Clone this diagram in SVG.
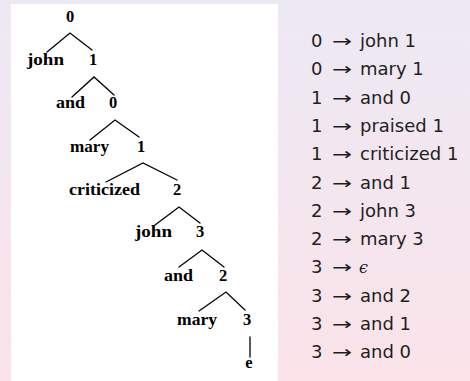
<svg xmlns="http://www.w3.org/2000/svg" width="470" height="381" viewBox="0 0 470 381">
  <defs>
    <linearGradient id="bg" x1="0" y1="0" x2="0" y2="1">
      <stop offset="0" stop-color="#ece9f4"/>
      <stop offset="1" stop-color="#fbe3e9"/>
    </linearGradient>
    <style>
      .t { font-family: "Liberation Serif", "Times New Roman", serif; font-weight: bold; font-size: 16.5px; fill: #000; }
      .n { text-anchor: middle; }
      .edge { stroke: #000; stroke-width: 1.3; fill: none; stroke-linecap: round; }
      .r { font-family: "DejaVu Sans", "Liberation Sans", sans-serif; font-size: 18px; fill: #1e1e1e; }
      .a { font-family: "DejaVu Sans", sans-serif; font-size: 17px; }
    </style>
  </defs>

  <!-- slide background and white panel holding the tree -->
  <rect x="0" y="0" width="470" height="381" fill="url(#bg)"/>
  <rect x="11" y="4" width="267" height="377" fill="#ffffff"/>

  <!-- tree branches -->
  <g id="connectors">
    <path class="edge" d="M47,52 L70,33 L92,50"/>
    <path class="edge" d="M72,97 L94,77 L114,95"/>
    <path class="edge" d="M90,140 L115,120 L139,137"/>
    <path class="edge" d="M106,182 L143,163 L177,180"/>
    <path class="edge" d="M155,225 L179,207 L200,223"/>
    <path class="edge" d="M179,267 L202,250 L224,267"/>
    <path class="edge" d="M199,311 L226,292 L245,310"/>
    <path class="edge" d="M250,337 L250,357"/>
  </g>

  <!-- tree nodes -->
  <g id="n0"><text class="t n" x="70" y="22">0</text></g>
  <g id="w-john1"><text class="t" x="27" y="65" textLength="37" lengthAdjust="spacingAndGlyphs">john</text></g>
  <g id="n1"><text class="t n" x="93" y="65">1</text></g>
  <g id="w-and1"><text class="t" x="56" y="108" textLength="29" lengthAdjust="spacingAndGlyphs">and</text></g>
  <g id="n2"><text class="t n" x="113" y="108">0</text></g>
  <g id="w-mary1"><text class="t" x="70" y="152" textLength="39" lengthAdjust="spacingAndGlyphs">mary</text></g>
  <g id="n3"><text class="t n" x="141" y="152">1</text></g>
  <g id="w-criticized"><text class="t" x="69" y="195" textLength="71" lengthAdjust="spacingAndGlyphs">criticized</text></g>
  <g id="n4"><text class="t n" x="177" y="195">2</text></g>
  <g id="w-john2"><text class="t" x="135" y="237" textLength="37" lengthAdjust="spacingAndGlyphs">john</text></g>
  <g id="n5"><text class="t n" x="200" y="237">3</text></g>
  <g id="w-and2"><text class="t" x="164" y="281" textLength="29" lengthAdjust="spacingAndGlyphs">and</text></g>
  <g id="n6"><text class="t n" x="223" y="281">2</text></g>
  <g id="w-mary2"><text class="t" x="177" y="325" textLength="40" lengthAdjust="spacingAndGlyphs">mary</text></g>
  <g id="n7"><text class="t n" x="247" y="325">3</text></g>
  <g id="w-e"><text class="t n" x="249" y="368">e</text></g>

  <!-- grammar rules -->
  <g id="rules" class="r">
    <text x="311" y="47">0</text><text class="a" x="332" y="47" textLength="20" lengthAdjust="spacingAndGlyphs">→</text><text x="360" y="47">john 1</text>
    <text x="311" y="75.3">0</text><text class="a" x="332" y="75.3" textLength="20" lengthAdjust="spacingAndGlyphs">→</text><text x="360" y="75.3">mary 1</text>
    <text x="311" y="103.6">1</text><text class="a" x="332" y="103.6" textLength="20" lengthAdjust="spacingAndGlyphs">→</text><text x="360" y="103.6">and 0</text>
    <text x="311" y="131.9">1</text><text class="a" x="332" y="131.9" textLength="20" lengthAdjust="spacingAndGlyphs">→</text><text x="360" y="131.9">praised 1</text>
    <text x="311" y="160.2">1</text><text class="a" x="332" y="160.2" textLength="20" lengthAdjust="spacingAndGlyphs">→</text><text x="360" y="160.2">criticized 1</text>
    <text x="311" y="188.5">2</text><text class="a" x="332" y="188.5" textLength="20" lengthAdjust="spacingAndGlyphs">→</text><text x="360" y="188.5">and 1</text>
    <text x="311" y="216.8">2</text><text class="a" x="332" y="216.8" textLength="20" lengthAdjust="spacingAndGlyphs">→</text><text x="360" y="216.8">john 3</text>
    <text x="311" y="245.1">2</text><text class="a" x="332" y="245.1" textLength="20" lengthAdjust="spacingAndGlyphs">→</text><text x="360" y="245.1">mary 3</text>
    <text x="311" y="273.4">3</text><text class="a" x="332" y="273.4" textLength="20" lengthAdjust="spacingAndGlyphs">→</text><text x="359" y="273.4" style="font-family:'DejaVu Serif', serif; font-style:italic; font-size:16px">ϵ</text>
    <text x="311" y="301.7">3</text><text class="a" x="332" y="301.7" textLength="20" lengthAdjust="spacingAndGlyphs">→</text><text x="360" y="301.7">and 2</text>
    <text x="311" y="330">3</text><text class="a" x="332" y="330" textLength="20" lengthAdjust="spacingAndGlyphs">→</text><text x="360" y="330">and 1</text>
    <text x="311" y="358.3">3</text><text class="a" x="332" y="358.3" textLength="20" lengthAdjust="spacingAndGlyphs">→</text><text x="360" y="358.3">and 0</text>
  </g>
</svg>
